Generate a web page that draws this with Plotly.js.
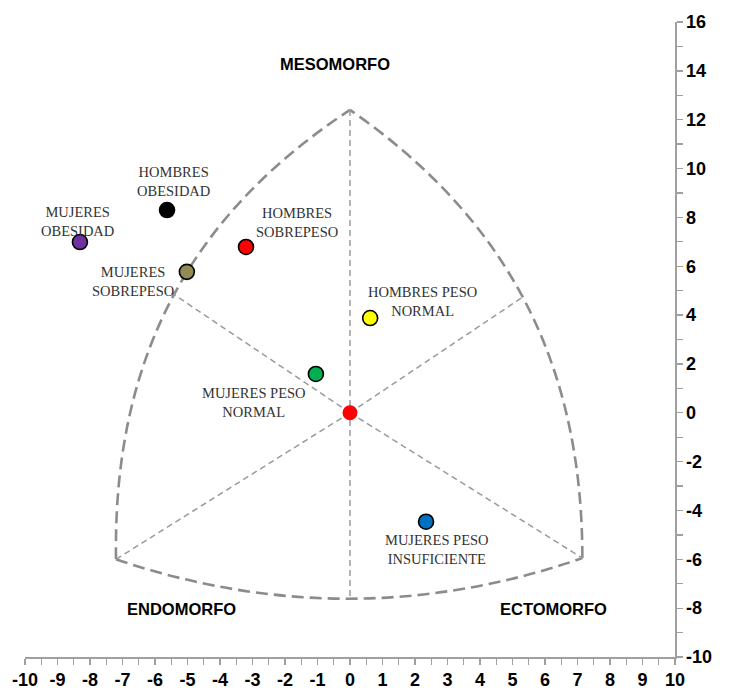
<!DOCTYPE html>
<html>
<head>
<meta charset="utf-8">
<script src="https://cdn.plot.ly/plotly-3.0.1.min.js"></script>
<style>html,body{margin:0;padding:0;background:#fff;}#chart{width:729px;height:695px;}</style>
</head>
<body>
<div id="chart"></div>
<script>
// ---- data ----
const groupNames = ['HOMBRES<br>OBESIDAD', 'MUJERES<br>OBESIDAD', 'HOMBRES<br>SOBREPESO', 'MUJERES<br>SOBREPESO', 'HOMBRES PESO<br>NORMAL', 'MUJERES PESO<br>NORMAL', 'MUJERES PESO<br>INSUFICIENTE'];
const groupX = [-5.63, -8.31, -3.20, -5.02, 0.62, -1.05, 2.34];
const groupY = [8.30, 6.99, 6.79, 5.77, 3.88, 1.59, -4.46];
const groupColors = ['#000000', '#7030A0', '#FF0000', '#948A54', '#FFFF00', '#00B050', '#0070C0'];
const centerX = [0];
const centerY = [0];
// somatochart outline: vertices (mesomorph top, endomorph left, ectomorph right)
const vertexNames = ['MESOMORFO', 'ENDOMORFO', 'ECTOMORFO'];
const vertexX = [0, -7.2, 7.15];
const vertexY = [12.4, -6.0, -5.95];
// arc control points (left arc, right arc: two each; bottom arc: one)
const leftArcCX = [-7.3, -4.75];
const leftArcCY = [2.5, 8.25];
const rightArcCX = [7.15, 4.55];
const rightArcCY = [2.5, 8.2];
const bottomArcCX = [0];
const bottomArcCY = [-9.25];
const bottomMidY = -7.6;
// inner dividing lines end points on the side arcs
const junctionX = [-5.48, 5.32];
const junctionY = [4.9, 4.74];
const xTicks = [-10,-9,-8,-7,-6,-5,-4,-3,-2,-1,0,1,2,3,4,5,6,7,8,9,10];
const yTicks = [-10,-8,-6,-4,-2,0,2,4,6,8,10,12,14,16];

// ---- label offsets (pixels) ----
const labelDX = [6, -2, 51, -54, 52, -62, 11];
const labelDY = [29, 21, 24, -10, 17, -29, -28];

const outlineStyle = {color: '#8C8C8C', width: 2.6, dash: '12px,6px'};
const innerStyle = {color: '#9A9A9A', width: 1.5, dash: '6px,4px'};

const shapes = [];
// left arc: endo -> meso
shapes.push({type: 'path', xref: 'x', yref: 'y', layer: 'below', line: outlineStyle,
  path: `M ${vertexX[1]},${vertexY[1]} C ${leftArcCX[0]},${leftArcCY[0]} ${leftArcCX[1]},${leftArcCY[1]} ${vertexX[0]},${vertexY[0]}`});
// right arc: ecto -> meso
shapes.push({type: 'path', xref: 'x', yref: 'y', layer: 'below', line: outlineStyle,
  path: `M ${vertexX[2]},${vertexY[2]} C ${rightArcCX[0]},${rightArcCY[0]} ${rightArcCX[1]},${rightArcCY[1]} ${vertexX[0]},${vertexY[0]}`});
// bottom arc: endo -> ecto
shapes.push({type: 'path', xref: 'x', yref: 'y', layer: 'below', line: outlineStyle,
  path: `M ${vertexX[1]},${vertexY[1]} Q ${bottomArcCX[0]},${bottomArcCY[0]} ${vertexX[2]},${vertexY[2]}`});
// inner lines
shapes.push({type: 'line', xref: 'x', yref: 'y', layer: 'below', line: innerStyle, x0: vertexX[0], y0: vertexY[0], x1: centerX[0], y1: bottomMidY});
shapes.push({type: 'line', xref: 'x', yref: 'y', layer: 'below', line: innerStyle, x0: centerX[0], y0: centerY[0], x1: vertexX[1], y1: vertexY[1]});
shapes.push({type: 'line', xref: 'x', yref: 'y', layer: 'below', line: innerStyle, x0: centerX[0], y0: centerY[0], x1: vertexX[2], y1: vertexY[2]});
shapes.push({type: 'line', xref: 'x', yref: 'y', layer: 'below', line: innerStyle, x0: centerX[0], y0: centerY[0], x1: junctionX[0], y1: junctionY[0]});
shapes.push({type: 'line', xref: 'x', yref: 'y', layer: 'below', line: innerStyle, x0: centerX[0], y0: centerY[0], x1: junctionX[1], y1: junctionY[1]});

const annotations = groupNames.map((t, i) => ({
  x: groupX[i], y: groupY[i], xref: 'x', yref: 'y', text: t, showarrow: false,
  xshift: labelDX[i], yshift: labelDY[i], align: 'center',
  font: {family: '"Liberation Serif", "Times New Roman", serif', size: 14.5, color: '#333333'}
}));
// somatotype region names
const regionPos = [{x: -0.45, y: 14.3}, {x: -5.2, y: -8.05}, {x: 6.25, y: -8.05}];
vertexNames.forEach((n, i) => annotations.push({
  x: regionPos[i].x, y: regionPos[i].y, xref: 'x', yref: 'y', text: '<b>' + n + '</b>', showarrow: false,
  font: {family: '"Liberation Sans", Arial, sans-serif', size: 16.5, color: '#000000'}
}));

const traces = [
  {type: 'scatter', mode: 'markers', x: centerX, y: centerY, hoverinfo: 'skip',
   marker: {size: 15, color: '#FF0000', line: {width: 0}}},
  {type: 'scatter', mode: 'markers', x: groupX, y: groupY, hoverinfo: 'skip',
   marker: {size: 15, color: groupColors, line: {width: 1.6, color: '#000000'}}}
];

const tickFont = {family: '"Liberation Sans", Arial, sans-serif', size: 18, color: '#000000'};

const layout = {
  width: 729, height: 695,
  margin: {l: 25, r: 54, t: 22, b: 38},
  paper_bgcolor: '#ffffff', plot_bgcolor: '#ffffff',
  showlegend: false,
  xaxis: {range: [-10, 10], tickmode: 'array', tickvals: xTicks, ticktext: xTicks.map(v => '<b>' + v + '</b>'),
    showgrid: false, zeroline: false, showline: true, linecolor: '#A0A0A0', linewidth: 1.5,
    ticks: 'outside', ticklen: 6, tickcolor: '#A0A0A0', tickwidth: 1.3, tickfont: tickFont,
    minor: {dtick: 0.5, tick0: 0, ticks: 'outside', ticklen: 6, tickcolor: '#A0A0A0', tickwidth: 1.3, showgrid: false},
    fixedrange: true},
  yaxis: {range: [-10, 16], side: 'right', tickmode: 'array', tickvals: yTicks, ticktext: yTicks.map(v => '<b>' + v + '</b>'),
    showgrid: false, zeroline: false, showline: true, linecolor: '#A0A0A0', linewidth: 1.5,
    ticks: 'outside', ticklen: 6, tickcolor: '#A0A0A0', tickwidth: 1.3, tickfont: tickFont,
    minor: {dtick: 1, tick0: 0, ticks: 'outside', ticklen: 6, tickcolor: '#A0A0A0', tickwidth: 1.3, showgrid: false},
    fixedrange: true},
  shapes: shapes,
  annotations: annotations
};

Plotly.newPlot('chart', traces, layout, {displayModeBar: false, staticPlot: true});
</script>
</body>
</html>
